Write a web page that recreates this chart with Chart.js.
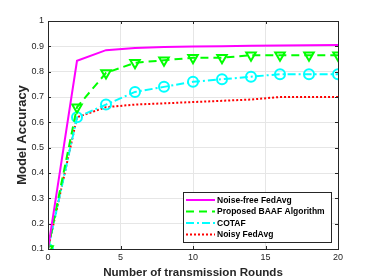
<!DOCTYPE html>
<html>
<head>
<meta charset="UTF-8">
<script src="https://cdn.jsdelivr.net/npm/chart.js"></script>
<style>
  body { margin: 0; background: #fff; }
  #wrap { width: 374px; height: 280px; }
</style>
</head>
<body>
<div id="wrap"><canvas id="grafico" width="374" height="280"></canvas></div>
<script>
const rounds = [0, 2, 4, 6, 8, 10, 12, 14, 16, 18, 20];
const noiseFree = [0.1, 0.843, 0.885, 0.893, 0.897, 0.899, 0.900, 0.902, 0.903, 0.904, 0.905];
const baaf = [0.1, 0.66, 0.795, 0.835, 0.845, 0.855, 0.855, 0.865, 0.865, 0.865, 0.865];
const cotaf = [0.1, 0.62, 0.67, 0.72, 0.74, 0.76, 0.77, 0.78, 0.79, 0.79, 0.79];
const noisy = [0.1, 0.62, 0.66, 0.67, 0.675, 0.68, 0.685, 0.69, 0.70, 0.70, 0.70];
const xTicks = [0, 5, 10, 15, 20];
const yTicks = [0.1, 0.2, 0.3, 0.4, 0.5, 0.6, 0.7, 0.8, 0.9, 1];

const fuente = "Helvetica, 'Liberation Sans', Arial, sans-serif";
const pts = arr => arr.map((v, i) => ({ x: rounds[i], y: v }));

// caja estilo matlab + leyenda
const marco = {
  id: 'marco',
  afterDraw(chart) {
    const { ctx, chartArea: a } = chart;
    ctx.save();
    ctx.strokeStyle = '#262626';
    ctx.lineWidth = 1;
    ctx.strokeRect(a.left + 0.5, a.top + 0.5, a.right - a.left, a.bottom - a.top);
    // ticks internos
    const xs = chart.scales.x, ys = chart.scales.y;
    ctx.beginPath();
    xTicks.forEach(t => {
      const px = Math.round(xs.getPixelForValue(t)) + 0.5;
      ctx.moveTo(px, a.bottom); ctx.lineTo(px, a.bottom - 3);
      ctx.moveTo(px, a.top); ctx.lineTo(px, a.top + 3);
    });
    yTicks.forEach(t => {
      const py = Math.round(ys.getPixelForValue(t)) + 0.5;
      ctx.moveTo(a.left, py); ctx.lineTo(a.left + 3, py);
      ctx.moveTo(a.right, py); ctx.lineTo(a.right - 3, py);
    });
    ctx.stroke();

    // leyenda
    const lx = 183, ly = 192, lw = 148, lh = 50;
    ctx.fillStyle = '#fff';
    ctx.fillRect(lx, ly, lw, lh);
    ctx.strokeStyle = '#262626';
    ctx.strokeRect(lx + 0.5, ly + 0.5, lw, lh);
    ctx.font = 'bold 8.5px ' + fuente;
    ctx.textBaseline = 'middle';
    chart.data.datasets.forEach((ds, i) => {
      const y = ly + 8 + i * 11.5;
      ctx.strokeStyle = ds.borderColor;
      ctx.lineWidth = 2;
      ctx.setLineDash(ds.borderDash || []);
      ctx.beginPath();
      ctx.moveTo(lx + 3, y); ctx.lineTo(lx + 32, y);
      ctx.stroke();
      ctx.setLineDash([]);
      ctx.fillStyle = '#000';
      ctx.fillText(ds.label, lx + 34, y + 0.5);
    });
    ctx.restore();
  }
};

new Chart(document.getElementById('grafico'), {
  type: 'line',
  data: {
    datasets: [
      {
        label: 'Noise-free FedAvg',
        data: pts(noiseFree),
        borderColor: '#ff00ff',
        borderWidth: 2,
        pointRadius: 0,
        tension: 0
      },
      {
        label: 'Proposed BAAF Algorithm',
        data: pts(baaf),
        borderColor: '#00ff00',
        borderWidth: 2,
        borderDash: [8, 5],
        pointStyle: 'triangle',
        rotation: 180,
        pointRadius: 5.5,
        pointBorderWidth: 2,
        pointBackgroundColor: 'rgba(0,0,0,0)',
        tension: 0
      },
      {
        label: 'COTAF',
        data: pts(cotaf),
        borderColor: '#00ffff',
        borderWidth: 2,
        borderDash: [8, 3, 2, 3],
        pointStyle: 'circle',
        pointRadius: 5,
        pointBorderWidth: 2,
        pointBackgroundColor: 'rgba(0,0,0,0)',
        tension: 0
      },
      {
        label: 'Noisy FedAvg',
        data: pts(noisy),
        borderColor: '#ff0000',
        borderWidth: 2,
        borderDash: [2, 2],
        pointRadius: 0,
        tension: 0
      }
    ]
  },
  options: {
    responsive: false,
    animation: false,
    layout: { padding: { top: 21, right: 36, left: 15, bottom: 0 } },
    plugins: { legend: { display: false }, tooltip: { enabled: false } },
    scales: {
      x: {
        type: 'linear',
        min: 0, max: 20,
        afterBuildTicks: s => { s.ticks = xTicks.map(v => ({ value: v })); },
        afterFit: s => { s.height = 31; },
        grid: { color: '#e6e6e6', drawTicks: false },
        border: { display: false },
        ticks: { color: '#262626', font: { size: 9, family: fuente }, padding: 3, maxRotation: 0 },
        title: { display: true, text: 'Number of transmission Rounds', color: '#262626',
                 font: { size: 11.6, weight: 'bold', family: fuente }, padding: { top: 0, bottom: 0 } }
      },
      y: {
        min: 0.1, max: 1,
        afterBuildTicks: s => { s.ticks = yTicks.map(v => ({ value: v })); },
        afterFit: s => { s.width = 33; },
        grid: { color: '#e6e6e6', drawTicks: false },
        border: { display: false },
        ticks: { color: '#262626', font: { size: 9, family: fuente }, padding: 4,
                 callback: v => String(Math.round(v * 10) / 10) },
        title: { display: true, text: 'Model Accuracy', color: '#262626',
                 font: { size: 13, weight: 'bold', family: fuente }, padding: { top: 0, bottom: 1 } }
      }
    }
  },
  plugins: [marco]
});
</script>
</body>
</html>
